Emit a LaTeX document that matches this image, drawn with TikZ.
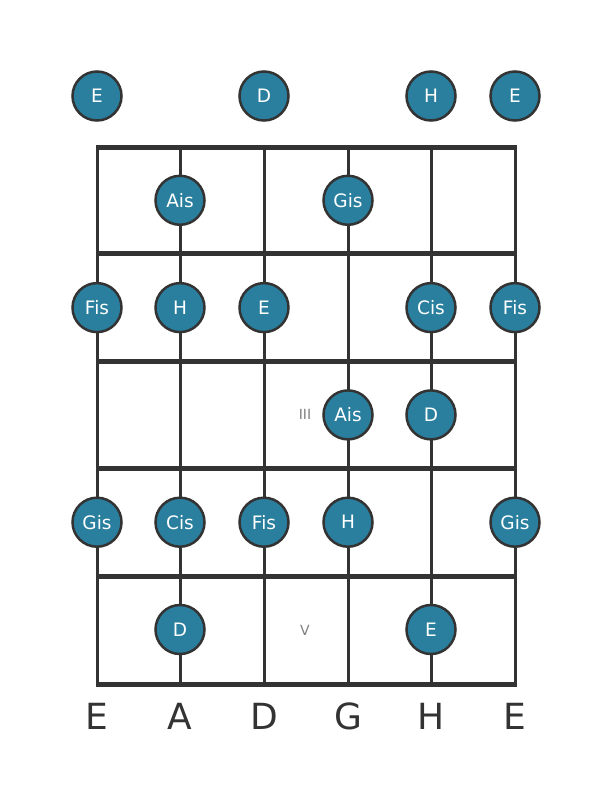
\documentclass[tikz,border=0pt]{standalone}
\usepackage{fontspec}
\setmainfont{DejaVu Sans}
\usepackage{tikz}

\definecolor{notefill}{HTML}{2A7F9E}
\definecolor{gridgray}{HTML}{333333}

\tikzset{
    note/.style={circle, draw=gridgray, line width=2.5pt, fill=notefill,
        minimum size=49pt, inner sep=0pt, text=white, font=\fontsize{18.5}{18.5}\selectfont},
    fretline/.style={draw=gridgray, line width=5pt},
    stringline/.style={draw=gridgray, line width=3pt},
    tuning/.style={text=gridgray, font=\fontsize{36}{36}\selectfont},
    position/.style={text=gray, font=\fontsize{14}{14}\selectfont},
}

\begin{document}
\begin{tikzpicture}[x=1pt, y=-1pt]
    \useasboundingbox (0,0) rectangle (611,801);
    % strings
    \foreach \s/\x in {1/97, 2/180, 3/264, 4/348, 5/431, 6/515} {
        \coordinate (s\s) at (\x,0);
        \draw[stringline] (\x,147) -- (\x,684);
    }
    % frets and nut
    \foreach \y in {147, 253, 361, 468, 576, 684} {
        \draw[fretline] (95.5,\y) -- (516.5,\y);
    }
    % position marks
    \node[position] (pos-iii) at (305,414) {III};
    \node[position] (pos-v) at (305,630) {V};
    % notes: string/fret/name
    \foreach \s/\f/\t in {1/0/E, 3/0/D, 5/0/H, 6/0/E,
                          2/1/Ais, 4/1/Gis,
                          1/2/Fis, 2/2/H, 3/2/E, 5/2/Cis, 6/2/Fis,
                          4/3/Ais, 5/3/D,
                          1/4/Gis, 2/4/Cis, 3/4/Fis, 4/4/H, 6/4/Gis,
                          2/5/D, 5/5/E} {
        \pgfmathsetmacro{\ny}{\f==0 ? 96 : 93+107.3*\f}
        \node[note] (n-\s-\f) at (s\s |- 0,\ny) {\t};
    }
    % tuning
    \foreach \s/\t in {1/E, 2/A, 3/D, 4/G, 5/H, 6/E} {
        \node[tuning] (tune-\s) at (s\s |- 0,716) {\t};
    }
\end{tikzpicture}
\end{document}
